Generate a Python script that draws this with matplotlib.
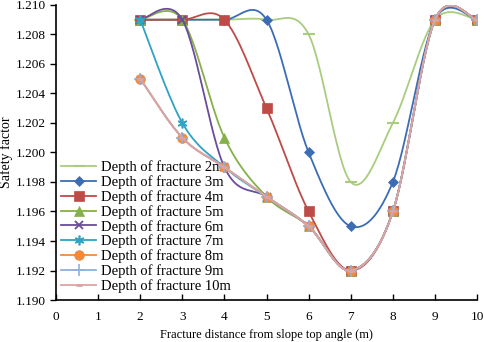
import numpy as np
import matplotlib
matplotlib.use("Agg")
import matplotlib.pyplot as plt

# distance from slope top angle (m)
x = [2, 3, 4, 5, 6, 7, 8, 9, 10]

# safety factor for each fracture depth
sf_2m  = [1.209, 1.209, 1.209, 1.209, 1.208, 1.198, 1.202, 1.209, 1.209]
sf_3m  = [1.209, 1.209, 1.209, 1.209, 1.200, 1.195, 1.198, 1.209, 1.209]
sf_4m  = [1.209, 1.209, 1.209, 1.203, 1.196, 1.192, 1.196, 1.209, 1.209]
sf_5m  = [1.209, 1.209, 1.201, 1.197, 1.195, 1.192, 1.196, 1.209, 1.209]
sf_6m  = [1.209, 1.209, 1.199, 1.197, 1.195, 1.192, 1.196, 1.209, 1.209]
sf_7m  = [1.209, 1.202, 1.199, 1.197, 1.195, 1.192, 1.196, 1.209, 1.209]
sf_8m  = [1.205, 1.201, 1.199, 1.197, 1.195, 1.192, 1.196, 1.209, 1.209]
sf_9m  = [1.205, 1.201, 1.199, 1.197, 1.195, 1.192, 1.196, 1.209, 1.209]
sf_10m = [1.205, 1.201, 1.199, 1.197, 1.195, 1.192, 1.196, 1.209, 1.209]

labels = ["Depth of fracture %dm" % d for d in range(2, 11)]

FS_TICK = 9.5
FS_LAB  = 9
FS_LEG  = 10.5
plt.rcParams["font.family"] = ["Liberation Serif", "DejaVu Serif"]


def smooth(xs, ys, n=30):
    """Excel-like smoothed line: cubic Bezier through points (Catmull-Rom tangents)."""
    p = np.column_stack([xs, ys]).astype(float)
    pts = np.vstack([p[0], p, p[-1]])
    out = []
    t = np.linspace(0, 1, n)[:, None]
    for i in range(1, len(pts) - 2):
        p0, p1, p2, p3 = pts[i - 1], pts[i], pts[i + 1], pts[i + 2]
        c1 = p1 + (p2 - p0) / 6.0
        c2 = p2 - (p3 - p1) / 6.0
        seg = ((1 - t) ** 3) * p1 + 3 * ((1 - t) ** 2) * t * c1 \
            + 3 * (1 - t) * t ** 2 * c2 + t ** 3 * p2
        out.append(seg if i == 1 else seg[1:])
    seg = np.vstack(out)
    return seg[:, 0], seg[:, 1]


series = [sf_2m, sf_3m, sf_4m, sf_5m, sf_6m, sf_7m, sf_8m, sf_9m, sf_10m]
styles = [
    dict(color="#A9CC80", marker="_", ms=9, mew=1.5),
    dict(color="#3C6DB4", marker="D", ms=5.5, mew=0.5),
    dict(color="#BE4B48", marker="s", ms=7, mew=0.5),
    dict(color="#86B04A", marker="^", ms=6.5, mew=0.5),
    dict(color="#6B4C9A", marker="x", ms=6, mew=1.3),
    dict(color="#2FA3C2", marker=(6, 2, 0), ms=7, mew=1.2),
    dict(color="#F08A3E", marker="o", ms=7, mew=0.5),
    dict(color="#8FB1DC", marker="+", ms=8, mew=1.2),
    dict(color="#DDA3A3", marker="_", ms=5, mew=2.0),
]

fig = plt.figure(figsize=(4.84, 3.42), dpi=100)
ax = fig.add_axes([0.1157, 0.1228, 0.870, 0.8626])

for i, (ys, st, lab) in enumerate(zip(series, styles, labels)):
    sx, sy = smooth(x, ys)
    ax.plot(sx, sy, color=st["color"], lw=1.3, zorder=2 + i)
    ax.plot(x, ys, ls="none", marker=st["marker"], ms=st["ms"], mew=st["mew"],
            color=st["color"], zorder=2 + i)
    # proxy for legend
    ax.plot([], [], color=st["color"], lw=1.3, marker=st["marker"],
            ms=st["ms"], mew=st["mew"], label=lab)

ax.set_xlim(0, 10)
ax.set_ylim(1.190, 1.210)
ax.set_xticks(range(0, 11))
yt = np.arange(1.190, 1.2101, 0.002)
ax.set_yticks(yt)
ax.set_yticklabels(["%.3f" % v for v in yt])
ax.tick_params(axis="x", direction="in", length=4, width=1, labelsize=FS_TICK, pad=8)
ax.tick_params(axis="y", direction="out", length=4, width=1, labelsize=FS_TICK, pad=3)
for s in ("top", "right"):
    ax.spines[s].set_visible(False)
for s in ("left", "bottom"):
    ax.spines[s].set_linewidth(1.2)

ax.set_xlabel("Fracture distance from slope top angle (m)", fontsize=FS_LAB, labelpad=4)
ax.set_ylabel("Safety factor", fontsize=FS_LAB + 1, labelpad=2)

ax.legend(loc="lower left", bbox_to_anchor=(-0.012, -0.01), frameon=False,
          fontsize=FS_LEG, handlelength=2.4, handletextpad=0.3,
          labelspacing=0.07, borderaxespad=0.3)

fig.savefig("out.png", dpi=100)
